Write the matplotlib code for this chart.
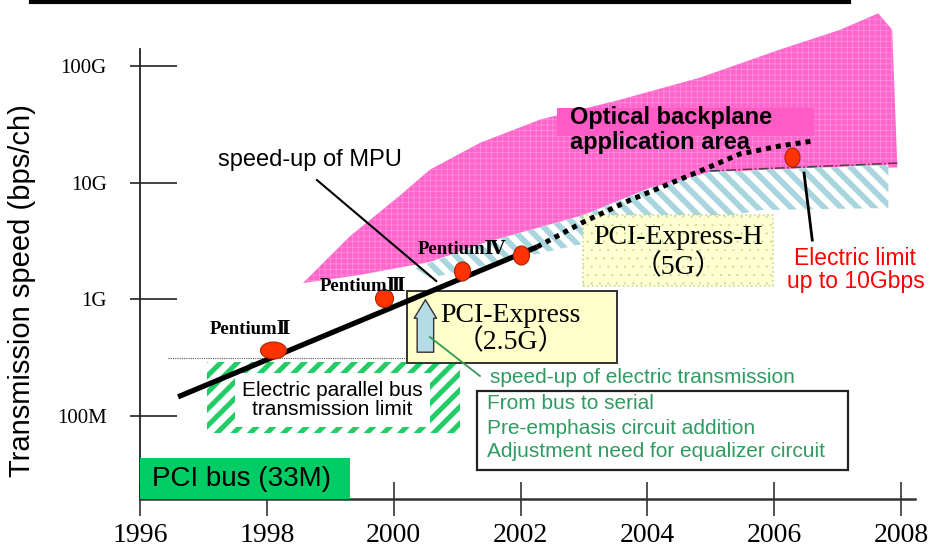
import numpy as np
import matplotlib
matplotlib.use('Agg')
import matplotlib.pyplot as plt
from matplotlib.patches import Polygon, Rectangle
from matplotlib.lines import Line2D
from matplotlib.path import Path
from matplotlib.markers import MarkerStyle
from matplotlib.transforms import Affine2D
from matplotlib.ticker import NullLocator

SANS = ['Liberation Sans', 'DejaVu Sans']
SERIF = ['Liberation Serif', 'DejaVu Serif', 'Noto Sans CJK JP']

# axes
years = [1996, 1998, 2000, 2002, 2004, 2006, 2008]
speed_ticks = [1e8, 1e9, 1e10, 1e11]
speed_labels = ['100M', '1G', '10G', '100G']

# speed-up of MPU (solid = past, dotted = forecast)
mpu_years = [1996.60, 2002.26]
mpu_speed = [1.46e8, 2.81e9]
mpu_fc_years = [2002.26, 2002.99, 2003.73, 2004.79, 2005.46, 2006.09, 2006.60]
mpu_fc_speed = [2.81e9, 4.59e9, 7.10e9, 1.23e10, 1.76e10, 2.06e10, 2.27e10]

# CPU points
cpu_years = [1998.10, 1999.85, 2001.08, 2002.01, 2006.28]
cpu_speed = [3.68e8, 1.03e9, 1.75e9, 2.40e9, 1.66e10]
cpu_names = ['Pentium\u2161', 'Pentium\u2162', 'Pentium\u2163', '', '']
cpu_wh = [(26, 17), (18, 18), (16, 19), (16, 19), (15, 19)]

# optical backplane application area
opt_years = [1998.57, 1999.31, 2000.10, 2000.57, 2001.36, 2002.31, 2003.57, 2004.83,
             2006.09, 2007.04, 2007.64, 2007.86, 2007.94,
             2007.94, 2006.41, 2004.99, 2004.04, 2002.99, 2002.15, 2001.41, 2000.57, 1999.47]
opt_speed = [1.38e9, 3.47e9, 7.76e9, 1.29e10, 2.19e10, 3.47e10, 5.13e10, 7.94e10,
             1.38e11, 2.04e11, 2.82e11, 2.04e11, 1.41e10,
             1.35e10, 1.29e10, 1.23e10, 8.9e9, 5.25e9, 3.89e9, 3.02e9, 2.09e9, 1.62e9]

# electric limit band
elim_years = [2000.34, 2001.41, 2002.99, 2004.04, 2004.99, 2007.80,
              2007.80, 2005.78, 2003.26, 2001.68, 2000.57]
elim_speed = [1.85e9, 3.03e9, 5.27e9, 9.0e9, 1.23e10, 1.42e10,
              6.05e9, 5.82e9, 3.22e9, 2.09e9, 1.52e9]
elim_line_years = [2004.99, 2007.94]
elim_line_speed = [1.26e10, 1.47e10]

# parallel bus limit
bus_years = [1997.06, 2001.05]
bus_speed = [7.14e7, 2.90e8]
bus_limit = 3.14e8
bus_limit_years = [1996.44, 2001.0]

pci_bus_years = [1996.0, 1999.31]
pci_bus_speed = 4.37e7

pcie_years = [2000.21, 2003.52]
pcie_speed = [2.84e8, 1.18e9]
pcieh_years = [2002.99, 2005.98]
pcieh_speed = [1.30e9, 5.27e9]

notes = ['From bus to serial', 'Pre-emphasis circuit addition',
         'Adjustment need for equalizer circuit']


def hatch_lw(patch, lw):
    if hasattr(patch, 'set_hatch_linewidth'):
        patch.set_hatch_linewidth(lw)


fig = plt.figure(figsize=(9.3, 5.5), dpi=100)
ax = fig.add_axes([140 / 930, 51 / 550, 775 / 930, 450 / 550])
ax.set_yscale('log')
ax.set_xlim(1996, 2008.22)
ax.set_ylim(10 ** 7.289, 10 ** 11.145)
ax.spines['top'].set_visible(False)
ax.spines['right'].set_visible(False)
ax.spines['left'].set_linewidth(1.3)
ax.spines['bottom'].set_linewidth(1.8)
ax.spines['left'].set_color('#222222')
ax.spines['bottom'].set_color('#333333')

ax.set_xticks(years)
ax.set_xticklabels([str(y) for y in years], family=SERIF, fontsize=20)
ax.tick_params(axis='x', direction='inout', length=24, width=1.1, pad=5, color='#222222')
ax.set_yticks(speed_ticks)
ax.set_yticklabels(speed_labels, family=SERIF, fontsize=15)
ax.yaxis.set_minor_locator(NullLocator())
ax.tick_params(axis='y', length=0, pad=24)
ax.hlines(speed_ticks, -10 / 775, 37 / 775, transform=ax.get_yaxis_transform(),
          clip_on=False, color='#222222', lw=1.2)

fig.text(22 / 930, 1 - 291 / 550, 'Transmission speed (bps/ch)', rotation=90,
         ha='center', va='center', fontsize=21, family=SANS)
fig.add_artist(Line2D([31 / 930, 849 / 930], [1 - 2 / 550, 1 - 2 / 550], lw=3, color='black'))

# optical area
opt = Polygon(np.column_stack([opt_years, opt_speed]), closed=True, facecolor='#ff66cc',
              edgecolor='#ff9ae0', lw=0, hatch='+++', zorder=1, clip_on=False)
hatch_lw(opt, 0.4)
ax.add_patch(opt)

# electric limit band
band = Polygon(np.column_stack([elim_years, elim_speed]), closed=True, facecolor='white',
               edgecolor='#a9d6de', lw=0, hatch='\\\\', zorder=2)
hatch_lw(band, 4.2)
ax.add_patch(band)
ax.plot(elim_line_years, elim_line_speed, color='#444444', lw=1.1, ls='-.', zorder=3)

ax.add_patch(Rectangle((2002.58, 10 ** 10.399), 2006.62 - 2002.58, 10 ** 10.639 - 10 ** 10.399,
                       facecolor='#ff5ac6', lw=0, zorder=3))
ax.text(2002.78, 10 ** 10.554, 'Optical backplane', fontsize=17, fontweight='bold',
        family=SANS, va='center', ha='left', zorder=4)
ax.text(2002.78, 10 ** 10.348, 'application area', fontsize=17, fontweight='bold',
        family=SANS, va='center', ha='left', zorder=4)

# parallel bus limit
bus = Rectangle((bus_years[0], bus_speed[0]), bus_years[1] - bus_years[0],
                bus_speed[1] - bus_speed[0], facecolor='white', edgecolor='#22cc66',
                lw=0, hatch='//', zorder=2)
hatch_lw(bus, 3.6)
ax.add_patch(bus)
ax.plot(bus_limit_years, [bus_limit, bus_limit], color='#555555', lw=0.8, ls=(0, (1, 1)), zorder=2)
ax.text(1999.03, 10 ** 8.137, 'Electric parallel bus\ntransmission limit', fontsize=15,
        family=SANS, ha='center', va='center', linespacing=1.05, zorder=4,
        bbox=dict(facecolor='white', edgecolor='none', boxstyle='square,pad=0.35'))

# PCI bus
ax.add_patch(Rectangle((pci_bus_years[0], ax.get_ylim()[0]), pci_bus_years[1] - pci_bus_years[0],
                       pci_bus_speed - ax.get_ylim()[0], facecolor='#00cc66', lw=0, zorder=4))
ax.text(1996.19, 10 ** 7.46, 'PCI bus (33M)', fontsize=20, family=SANS, va='center', zorder=5)

# PCI-Express boxes
ax.add_patch(Rectangle((pcie_years[0], pcie_speed[0]), pcie_years[1] - pcie_years[0],
                       pcie_speed[1] - pcie_speed[0], facecolor='#ffffcc',
                       edgecolor='#333333', lw=1.4, zorder=4))
ax.text(2001.84, 10 ** 8.865, 'PCI-Express', fontsize=20, family=SERIF, ha='center', va='center', zorder=5)
ax.text(2001.84, 10 ** 8.634, '\uff082.5G\uff09', fontsize=20, family=SERIF, ha='center', va='center', zorder=5)

pch = Rectangle((pcieh_years[0], pcieh_speed[0]), pcieh_years[1] - pcieh_years[0],
                pcieh_speed[1] - pcieh_speed[0], facecolor='#ffffd2',
                edgecolor='#c2dc92', lw=1.2, ls=':', hatch='..', zorder=4)
hatch_lw(pch, 0.3)
ax.add_patch(pch)
ax.text(2004.49, 10 ** 9.534, 'PCI-Express-H', fontsize=20, family=SERIF, ha='center', va='center', zorder=5)
ax.text(2004.49, 10 ** 9.277, '\uff085G\uff09', fontsize=20, family=SERIF, ha='center', va='center', zorder=5)

# MPU trend
ax.plot(mpu_years, mpu_speed, color='black', lw=3.8, solid_capstyle='butt', zorder=6)
ax.plot(mpu_fc_years, mpu_fc_speed, color='black', lw=3.6, ls=(0, (1, 1)), zorder=6)
ax.plot([1998.79, 2000.67], [10 ** 10.022, 10 ** 9.157], color='black', lw=1.5, zorder=3)
ax.text(1998.68, 10 ** 10.194, 'speed-up of MPU', fontsize=17, family=SANS, ha='center', va='center')

# CPU markers
for x, y, name, (w, h) in zip(cpu_years, cpu_speed, cpu_names, cpu_wh):
    path = Path.unit_circle().transformed(Affine2D().scale(w, h))
    ax.scatter([x], [y], marker=MarkerStyle(path), s=(max(w, h) * 0.72) ** 2,
               facecolor='#ff3300', edgecolor='#aa2200', lw=0.8, zorder=7)
ax.text(1997.74, 10 ** 8.74, cpu_names[0], fontsize=13.5, fontweight='bold', family=SERIF,
        ha='center', va='center', zorder=7)
ax.text(1999.52, 10 ** 9.11, cpu_names[1], fontsize=13.5, fontweight='bold', family=SERIF,
        ha='center', va='center', zorder=7)
ax.text(2001.08, 10 ** 9.43, cpu_names[2], fontsize=13.5, fontweight='bold', family=SERIF,
        ha='center', va='center', zorder=7)

# electric limit note
ax.plot([2006.47, 2006.60], [10 ** 10.082, 10 ** 9.508], color='black', lw=2, zorder=6)
ax.text(2007.28, 10 ** 9.25, 'Electric limit\nup to 10Gbps', fontsize=16.5, family=SANS,
        color='#ff0000', ha='center', va='center', linespacing=1.0, zorder=7)

# speed-up of electric transmission
ax.annotate('', xy=(2000.50, 10 ** 9.02), xytext=(2000.50, 10 ** 8.523),
            arrowprops=dict(arrowstyle='simple,head_width=1.15,head_length=0.95,tail_width=0.85',
                            mutation_scale=14, facecolor='#b4dce6', edgecolor='#333333', lw=1),
            zorder=7)
ax.plot([2000.57, 2001.36], [10 ** 8.677, 10 ** 8.343], color='#339955', lw=1.3, zorder=7)
ax.text(2001.52, 10 ** 8.326, 'speed-up of electric transmission', fontsize=15, family=SANS,
        color='#2e9b60', va='center', ha='left', zorder=7)
ax.add_patch(Rectangle((2001.32, 10 ** 7.537), 2007.17 - 2001.32, 10 ** 8.214 - 10 ** 7.537,
                       facecolor='white', edgecolor='#222222', lw=1.6, zorder=6))
for i, line in enumerate(notes):
    ax.text(2001.47, 10 ** [8.111, 7.897, 7.700][i], line, fontsize=15, family=SANS,
            color='#2e9b60', va='center', ha='left', zorder=7)

fig.savefig('out.png', dpi=100)
